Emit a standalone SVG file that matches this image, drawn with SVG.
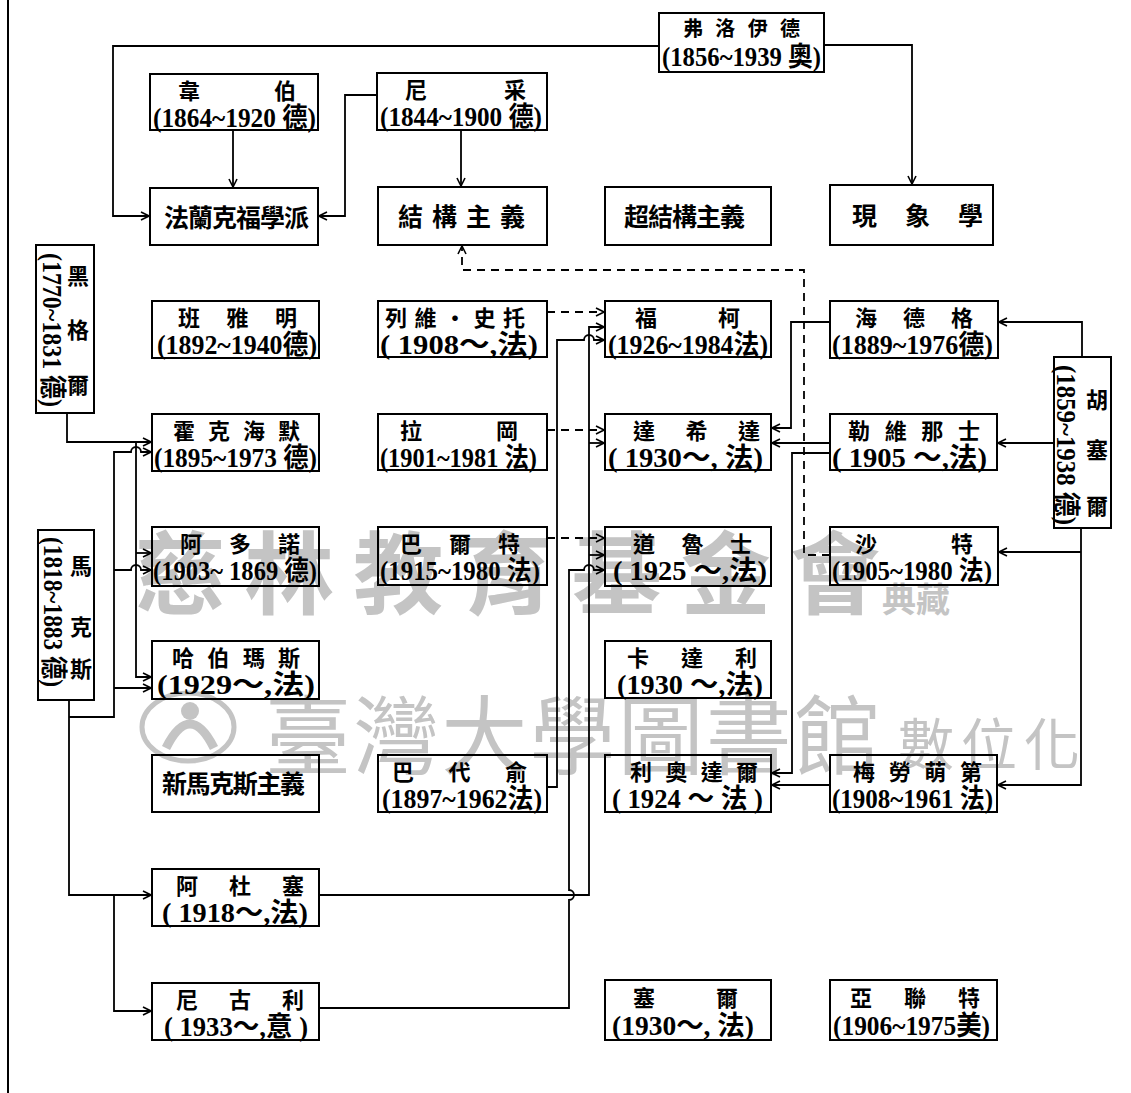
<svg xmlns="http://www.w3.org/2000/svg" width="1131" height="1093" viewBox="0 0 1131 1093">
<defs>
<style>
.box{fill:none;stroke:#000;stroke-width:2}
.nm{font-family:"Noto Sans CJK TC","Noto Sans CJK SC",sans-serif;font-size:22px;font-weight:700;fill:#000}
.sg{font-family:"Noto Sans CJK TC","Noto Sans CJK SC",sans-serif;font-size:25px;font-weight:700;fill:#000}
.nv{font-family:"Noto Sans CJK TC","Noto Sans CJK SC",sans-serif;font-size:22px;font-weight:700;fill:#000;text-anchor:middle}
.dt{font-family:"Liberation Serif","Noto Sans CJK TC",serif;font-size:27px;font-weight:700;fill:#000}
.ln{fill:none;stroke:#000;stroke-width:1.8}
.ds{stroke-dasharray:8 6}
.wm{fill:#c4c4c4;font-family:"Noto Sans CJK TC","Noto Sans CJK SC",sans-serif}
</style>
<marker id="ah" viewBox="0 0 10 10" refX="9" refY="5" markerWidth="10" markerHeight="10" markerUnits="userSpaceOnUse" orient="auto">
<path d="M1,1 L9,5 L1,9" fill="none" stroke="#000" stroke-width="1.6"/>
</marker>
</defs>
<rect x="0" y="0" width="1131" height="1093" fill="#fff"/>

<g id="watermark">
<text class="wm" x="135" y="607" font-size="90" font-weight="700" textLength="745" lengthAdjust="spacing">慈林教育基金會</text>
<text class="wm" x="882" y="612" font-size="34" font-weight="700">典藏</text>
<ellipse cx="188" cy="727" rx="46" ry="34" fill="none" stroke="#c4c4c4" stroke-width="5"/>
<circle cx="190" cy="711" r="9" fill="#c4c4c4"/>
<path d="M166,748 Q190,700 214,748" fill="none" stroke="#c4c4c4" stroke-width="9"/>
<text class="wm" x="265" y="768" font-size="86" textLength="615" lengthAdjust="spacing">臺灣大學圖書館</text>
<text class="wm" x="898" y="765" font-size="56" textLength="182" lengthAdjust="spacing">數位化</text>
</g>

<line x1="8" y1="0" x2="8" y2="1093" stroke="#000" stroke-width="2"/>

<g id="connectors">
<path class="ln" marker-end="url(#ah)" d="M659,46 H113 V216 H149"/>
<path class="ln" marker-end="url(#ah)" d="M824,45 H912 V184"/>
<path class="ln" marker-end="url(#ah)" d="M233,130 V187"/>
<path class="ln" marker-end="url(#ah)" d="M377,95 H345 V216 H319"/>
<path class="ln" marker-end="url(#ah)" d="M461,130 V186"/>
<path class="ln ds" marker-end="url(#ah)" d="M830,555 H804 V270 H462 V246"/>
<path class="ln" marker-end="url(#ah)" d="M67,413 V442 H151"/>
<path class="ln" marker-end="url(#ah)" d="M136,442 V677 H151"/>
<path class="ln" marker-end="url(#ah)" d="M136,553 H151"/>
<path class="ln" marker-end="url(#ah)" d="M69,700 V895 H151"/>
<path class="ln" marker-end="url(#ah)" d="M114,895 V1011 H151"/>
<path class="ln" marker-end="url(#ah)" d="M69,717 H114 V452 H131 a5,5 0 0 1 10,0 H151"/>
<path class="ln" marker-end="url(#ah)" d="M114,570 H131 a5,5 0 0 1 10,0 H151"/>
<path class="ln" marker-end="url(#ah)" d="M114,688 H151"/>
<path class="ln ds" marker-end="url(#ah)" d="M547,312 H604"/>
<path class="ln ds" marker-end="url(#ah)" d="M547,430 H604"/>
<path class="ln ds" marker-end="url(#ah)" d="M547,538 H604"/>
<path class="ln" marker-end="url(#ah)" d="M547,787 H557 V340 H584 a5,5 0 0 1 10,0 H604"/>
<path class="ln" marker-end="url(#ah)" d="M319,895 H589 V327 H604"/>
<path class="ln" marker-end="url(#ah)" d="M589,443 H604"/>
<path class="ln" marker-end="url(#ah)" d="M589,555 H604"/>
<path class="ln" marker-end="url(#ah)" d="M319,1008 H569 V900 a5,5 0 0 0 0,-10 V570 H584 a5,5 0 0 1 10,0 H604"/>
<path class="ln" marker-end="url(#ah)" d="M1082,357 V322 H999"/>
<path class="ln" marker-end="url(#ah)" d="M1054,443 H998"/>
<path class="ln" marker-end="url(#ah)" d="M1081,528 V785 H998"/>
<path class="ln" marker-end="url(#ah)" d="M1081,552 H999"/>
<path class="ln" marker-end="url(#ah)" d="M830,322 H791 V428 H772"/>
<path class="ln" marker-end="url(#ah)" d="M830,443 H772"/>
<path class="ln" marker-end="url(#ah)" d="M830,453 H792 V773 H772"/>
<path class="ln" marker-end="url(#ah)" d="M830,785 H772"/>
</g>

<g id="n-freud"><rect class="box" x="659" y="13" width="165" height="59"/>
<text class="nm" style="font-size:20px" x="683" y="36" textLength="117" lengthAdjust="spacing">弗洛伊德</text>
<text class="dt" x="662" y="66" textLength="159" lengthAdjust="spacingAndGlyphs">(1856~1939 奧)</text></g>

<g id="n-weber"><rect class="box" x="150" y="74" width="168" height="56"/>
<text class="nm" x="178" y="99" textLength="118" lengthAdjust="spacing">韋伯</text>
<text class="dt" x="153" y="127" textLength="163" lengthAdjust="spacingAndGlyphs">(1864~1920 德)</text></g>

<g id="n-nietzsche"><rect class="box" x="377" y="73" width="170" height="57"/>
<text class="nm" x="405" y="98" textLength="121" lengthAdjust="spacing">尼采</text>
<text class="dt" x="380" y="126" textLength="162" lengthAdjust="spacingAndGlyphs">(1844~1900 德)</text></g>

<g id="n-frankfurt"><rect class="box" x="150" y="188" width="168" height="57"/>
<text class="sg" x="164" y="227" textLength="145" lengthAdjust="spacing">法蘭克福學派</text></g>

<g id="n-structuralism"><rect class="box" x="378" y="187" width="169" height="58"/>
<text class="sg" x="398" y="226" textLength="127" lengthAdjust="spacing">結構主義</text></g>

<g id="n-superstructuralism"><rect class="box" x="605" y="187" width="166" height="58"/>
<text class="sg" x="624" y="226" textLength="121" lengthAdjust="spacing">超結構主義</text></g>

<g id="n-phenomenology"><rect class="box" x="830" y="185" width="163" height="60"/>
<text class="sg" x="852" y="225" textLength="131" lengthAdjust="spacing">現象學</text></g>

<g id="n-hegel"><rect class="box" x="36" y="245" width="58" height="168"/>
<text class="nv" x="78" y="284">黑</text>
<text class="nv" x="78" y="338">格</text>
<text class="nv" x="78" y="393">爾</text>
<text class="dt" transform="translate(43,253) rotate(90)" textLength="154" lengthAdjust="spacingAndGlyphs">(1770~1831 德)</text></g>

<g id="n-benjamin"><rect class="box" x="152" y="301" width="167" height="57"/>
<text class="nm" x="178" y="326" textLength="119" lengthAdjust="spacing">班雅明</text>
<text class="dt" x="157" y="354" textLength="160" lengthAdjust="spacingAndGlyphs">(1892~1940德)</text></g>

<g id="n-horkheimer"><rect class="box" x="152" y="414" width="167" height="57"/>
<text class="nm" x="173" y="439" textLength="127" lengthAdjust="spacing">霍克海默</text>
<text class="dt" x="154" y="467" textLength="163" lengthAdjust="spacingAndGlyphs">(1895~1973 德)</text></g>

<g id="n-marx"><rect class="box" x="38" y="530" width="56" height="170"/>
<text class="nv" x="81" y="574">馬</text>
<text class="nv" x="81" y="635">克</text>
<text class="nv" x="81" y="677">斯</text>
<text class="dt" transform="translate(44,537) rotate(90)" textLength="150" lengthAdjust="spacingAndGlyphs">(1818~1883 德)</text></g>

<g id="n-adorno"><rect class="box" x="152" y="527" width="167" height="59"/>
<text class="nm" x="180" y="552" textLength="120" lengthAdjust="spacing">阿多諾</text>
<text class="dt" x="153" y="580" textLength="164" lengthAdjust="spacingAndGlyphs">(1903~ 1869 德)</text></g>

<g id="n-habermas"><rect class="box" x="152" y="641" width="167" height="58"/>
<text class="nm" x="172" y="666" textLength="128" lengthAdjust="spacing">哈伯瑪斯</text>
<text class="dt" x="157" y="694" textLength="158" lengthAdjust="spacingAndGlyphs">(1929～,法)</text></g>

<g id="n-neomarxism"><rect class="box" x="152" y="755" width="167" height="57"/>
<text class="sg" x="162" y="793" textLength="143" lengthAdjust="spacing">新馬克斯主義</text></g>

<g id="n-althusser"><rect class="box" x="152" y="869" width="167" height="57"/>
<text class="nm" x="176" y="894" textLength="128" lengthAdjust="spacing">阿杜塞</text>
<text class="dt" x="162" y="922" textLength="146" lengthAdjust="spacingAndGlyphs">( 1918～,法)</text></g>

<g id="n-negri"><rect class="box" x="152" y="983" width="167" height="57"/>
<text class="nm" x="176" y="1008" textLength="128" lengthAdjust="spacing">尼古利</text>
<text class="dt" x="164" y="1036" textLength="144" lengthAdjust="spacingAndGlyphs">( 1933～,意 )</text></g>

<g id="n-levistrauss"><rect class="box" x="378" y="301" width="169" height="56"/>
<text class="nm" x="385" y="326" textLength="140" lengthAdjust="spacing">列維・史托</text>
<text class="dt" x="380" y="354" textLength="158" lengthAdjust="spacingAndGlyphs">( 1908～,法)</text></g>

<g id="n-lacan"><rect class="box" x="378" y="414" width="169" height="56"/>
<text class="nm" x="400" y="439" textLength="118" lengthAdjust="spacing">拉岡</text>
<text class="dt" x="380" y="467" textLength="157" lengthAdjust="spacingAndGlyphs">(1901~1981 法)</text></g>

<g id="n-barthes"><rect class="box" x="378" y="527" width="169" height="58"/>
<text class="nm" x="400" y="552" textLength="120" lengthAdjust="spacing">巴爾特</text>
<text class="dt" x="380" y="580" textLength="160" lengthAdjust="spacingAndGlyphs">(1915~1980 法)</text></g>

<g id="n-bataille"><rect class="box" x="378" y="755" width="169" height="57"/>
<text class="nm" x="392" y="780" textLength="135" lengthAdjust="spacing">巴代俞</text>
<text class="dt" x="382" y="808" textLength="160" lengthAdjust="spacingAndGlyphs">(1897~1962法)</text></g>

<g id="n-foucault"><rect class="box" x="605" y="301" width="166" height="56"/>
<text class="nm" x="635" y="326" textLength="105" lengthAdjust="spacing">福柯</text>
<text class="dt" x="608" y="354" textLength="160" lengthAdjust="spacingAndGlyphs">(1926~1984法)</text></g>

<g id="n-derrida"><rect class="box" x="605" y="414" width="166" height="56"/>
<text class="nm" x="633" y="439" textLength="127" lengthAdjust="spacing">達希達</text>
<text class="dt" x="608" y="467" textLength="155" lengthAdjust="spacingAndGlyphs">( 1930～, 法)</text></g>

<g id="n-deleuze"><rect class="box" x="605" y="527" width="166" height="59"/>
<text class="nm" x="633" y="552" textLength="119" lengthAdjust="spacing">道魯士</text>
<text class="dt" x="613" y="580" textLength="154" lengthAdjust="spacingAndGlyphs">( 1925 ～,法)</text></g>

<g id="n-guattari"><rect class="box" x="605" y="641" width="166" height="57"/>
<text class="nm" x="627" y="666" textLength="130" lengthAdjust="spacing">卡達利</text>
<text class="dt" x="617" y="694" textLength="146" lengthAdjust="spacingAndGlyphs">(1930 ～,法)</text></g>

<g id="n-lyotard"><rect class="box" x="605" y="755" width="166" height="57"/>
<text class="nm" x="630" y="780" textLength="128" lengthAdjust="spacing">利奧達爾</text>
<text class="dt" x="612" y="808" textLength="151" lengthAdjust="spacingAndGlyphs">( 1924 ～ 法 )</text></g>

<g id="n-serres"><rect class="box" x="605" y="980" width="166" height="60"/>
<text class="nm" x="633" y="1006" textLength="105" lengthAdjust="spacing">塞爾</text>
<text class="dt" x="612" y="1035" textLength="142" lengthAdjust="spacingAndGlyphs">(1930～, 法)</text></g>

<g id="n-heidegger"><rect class="box" x="830" y="301" width="168" height="57"/>
<text class="nm" x="855" y="326" textLength="118" lengthAdjust="spacing">海德格</text>
<text class="dt" x="832" y="354" textLength="161" lengthAdjust="spacingAndGlyphs">(1889~1976德)</text></g>

<g id="n-levinas"><rect class="box" x="830" y="414" width="167" height="56"/>
<text class="nm" x="848" y="439" textLength="132" lengthAdjust="spacing">勒維那士</text>
<text class="dt" x="832" y="467" textLength="155" lengthAdjust="spacingAndGlyphs">( 1905 ～,法)</text></g>

<g id="n-sartre"><rect class="box" x="830" y="527" width="168" height="58"/>
<text class="nm" x="855" y="552" textLength="118" lengthAdjust="spacing">沙特</text>
<text class="dt" x="832" y="580" textLength="160" lengthAdjust="spacingAndGlyphs">(1905~1980 法)</text></g>

<g id="n-husserl"><rect class="box" x="1054" y="357" width="57" height="171"/>
<text class="nv" x="1097" y="408">胡</text>
<text class="nv" x="1097" y="458">塞</text>
<text class="nv" x="1097" y="514">爾</text>
<text class="dt" transform="translate(1057,365) rotate(90)" textLength="160" lengthAdjust="spacingAndGlyphs">(1859~1938 德)</text></g>

<g id="n-merleauponty"><rect class="box" x="830" y="755" width="167" height="57"/>
<text class="nm" x="853" y="780" textLength="129" lengthAdjust="spacing">梅勞萌第</text>
<text class="dt" x="832" y="808" textLength="161" lengthAdjust="spacingAndGlyphs">(1908~1961 法)</text></g>

<g id="n-arendt"><rect class="box" x="830" y="980" width="167" height="60"/>
<text class="nm" x="850" y="1006" textLength="130" lengthAdjust="spacing">亞聯特</text>
<text class="dt" x="833" y="1035" textLength="157" lengthAdjust="spacingAndGlyphs">(1906~1975美)</text></g>
</svg>
